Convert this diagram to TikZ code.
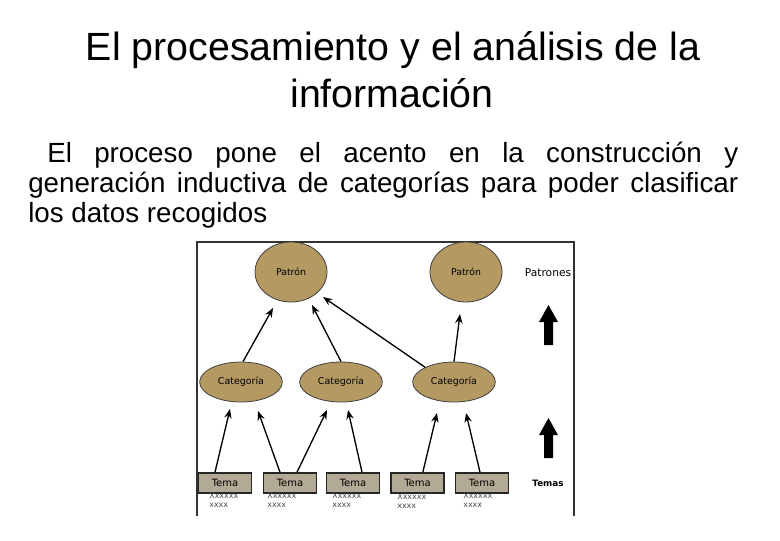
\documentclass[tikz,border=0pt]{standalone}
\usepackage{fontspec}
\setmainfont{Liberation Sans}
\newfontfamily\dv{DejaVu Sans}
\usetikzlibrary{shapes.geometric,arrows.meta}
\definecolor{tanfill}{HTML}{B49A62}
\definecolor{temafill}{HTML}{B3AA96}
\begin{document}
\begin{tikzpicture}[x=0.75pt,y=-0.75pt,
  patron/.style={ellipse,draw=black!75,line width=0.6pt,fill=tanfill,minimum width=54pt,minimum height=45pt,inner sep=0pt,font=\dv\fontsize{7}{8}\selectfont,text=black},
  categ/.style={ellipse,draw=black!75,line width=0.6pt,fill=tanfill,minimum width=62pt,minimum height=30pt,inner sep=0pt,font=\dv\fontsize{7.1}{8}\selectfont,text=black},
  tema/.style={rectangle,draw=black!85,line width=1.2pt,fill=temafill,minimum width=40pt,minimum height=15pt,inner sep=0pt,font=\dv\fontsize{7.5}{9}\selectfont,text=black},
  xx/.style={anchor=north west,align=left,inner sep=0pt,font=\dv\fontsize{6}{7.2}\selectfont,text=black!70},
  arr/.style={draw=black,line width=1pt,-{Stealth[length=7pt,width=5.5pt]}},
  side/.style={font=\dv\fontsize{8}{9}\selectfont,text=black}
]
\useasboundingbox (0,0) rectangle (780,540);
\fill[white] (0,0) rectangle (780,540);

% title
\node[anchor=base,inner sep=0pt,font=\fontsize{29.5}{35}\selectfont] (t1l) at (393,60) {El procesamiento y el análisis de la};
\node[anchor=base,inner sep=0pt,font=\fontsize{29.5}{35}\selectfont] (t2l) at (392,107) {información};

% body
\node[anchor=base west,inner sep=0pt,font=\fontsize{20.8}{22.5}\selectfont] (b1) at (47,162) {\makebox[518.25pt][s]{El proceso pone el acento en la construcción y}};
\node[anchor=base west,inner sep=0pt,font=\fontsize{20.8}{22.5}\selectfont] (b2) at (28,192) {\makebox[532.5pt][s]{generación inductiva de categorías para poder clasificar}};
\node[anchor=base west,inner sep=0pt,font=\fontsize{20.8}{22.5}\selectfont] (b3) at (28,222) {los datos recogidos};

% frame of the figure
\draw[black!80,line width=0.8pt] (197,516) -- (197,242) -- (574,242) -- (574,516);

% nodes
\node[patron] (p1) at (291,272) {Patrón};
\node[patron] (p2) at (466,272) {Patrón};
\node[categ] (c1) at (241,382) {Categoría};
\node[categ] (c2) at (341,382) {Categoría};
\node[categ] (c3) at (454,382) {Categoría};
\node[tema] (m1) at (225,483) {Tema};
\node[tema] (m2) at (290,483) {Tema};
\node[tema] (m3) at (353,483) {Tema};
\node[tema] (m4) at (417.5,483) {Tema};
\node[tema] (m5) at (482,483) {Tema};

\node[xx] (x1) at (209,492) {Xxxxxx\\xxxx};
\node[xx] (x2) at (267,492) {Xxxxxx\\xxxx};
\node[xx] (x3) at (332,492) {Xxxxxx\\xxxx};
\node[xx] (x4) at (397,493) {Xxxxxx\\xxxx};
\node[xx] (x5) at (463,492) {Xxxxxx\\xxxx};

\node[side] (lp) at (548,273) {Patrones};
\node[side,font=\dv\bfseries\fontsize{6.6}{8}\selectfont] (lt) at (548,483) {Temas};

% block arrows
\fill[black] (544,345) -- (553,345) -- (553,322) -- (558,322) -- (548.5,305) -- (539,322) -- (544,322) -- cycle;
\fill[black] (544,458) -- (553,458) -- (553,435) -- (558,435) -- (548.5,418) -- (539,435) -- (544,435) -- cycle;

% arrow tips (free ends)
\coordinate (e1) at (273,308);
\coordinate (e2) at (312,305);
\coordinate (e3) at (323,297);
\coordinate (e4) at (460,314);
\coordinate (f1) at (230,409);
\coordinate (f2) at (258,411);
\coordinate (f3) at (327,410);
\coordinate (f4) at (348,410);
\coordinate (f5) at (437,413);
\coordinate (f6) at (466,413);

\draw[arr] ([xshift=1.5pt]c1.north) -- (e1);
\draw[arr] (c2.north) -- (e2);
\draw[arr] (c3.153) -- (e3);
\draw[arr] (c3.north) -- (e4);

\draw[arr] ([xshift=-7.5pt]m1.north) -- (f1);
\draw[arr] ([xshift=-7.5pt]m2.north) -- (f2);
\draw[arr] ([xshift=5.25pt]m2.north) -- (f3);
\draw[arr] ([xshift=6.75pt]m3.north) -- (f4);
\draw[arr] ([xshift=4pt]m4.north) -- (f5);
\draw[arr] ([xshift=-1.5pt]m5.north) -- (f6);
\end{tikzpicture}
\end{document}
